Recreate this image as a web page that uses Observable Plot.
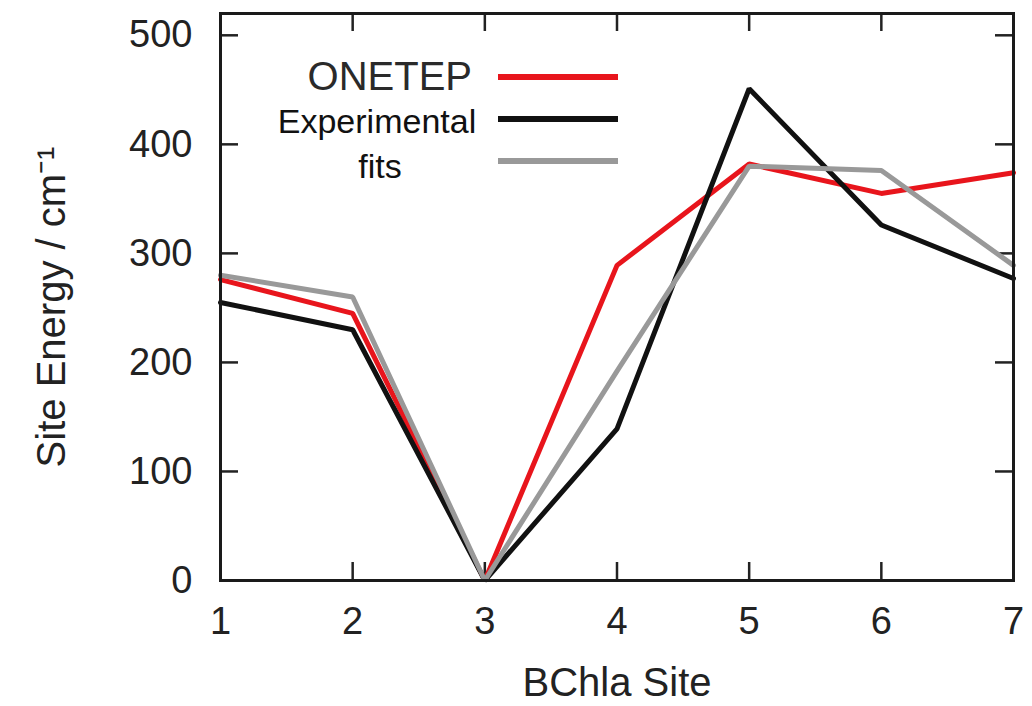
<!DOCTYPE html>
<html>
<head>
<meta charset="utf-8">
<script src="https://cdn.jsdelivr.net/npm/d3@7"></script>
<script src="https://cdn.jsdelivr.net/npm/@observablehq/plot@0.6"></script>
<style>
  html, body { margin: 0; padding: 0; background: #fff; }
  #chart { width: 1032px; height: 706px; }
</style>
</head>
<body>
<div id="chart"></div>
<script>
// ---- data ----
const sites = [1, 2, 3, 4, 5, 6, 7];
const onetep = [276, 245, 0, 289, 382, 355, 374];
const expFitA = [255, 230, 0, 139, 451, 326, 277];
const expFitB = [280, 260, 0, 192, 380, 376, 289];
const xTicks = [1, 2, 3, 4, 5, 6, 7];
const yTicks = [0, 100, 200, 300, 400, 500];
const seriesNames = ["ONETEP", "Experimental fits A", "Experimental fits B"];
const seriesColors = ["#e8151c", "#111111", "#999999"];
const xLabel = "BChla Site";
const yLabel = "Site Energy / cm\u207B\u00B9";

const rows = [];
[onetep, expFitA, expFitB].forEach((vals, k) => {
  sites.forEach((s, i) => rows.push({series: seriesNames[k], site: s, energy: vals[i]}));
});

const W = 1032, H = 706, mL = 220, mR = 19, mT = 13, mB = 126;
const fw = W - mL - mR, fh = H - mT - mB, tickLen = 18;

// legend drawn in pixel space inside the frame
function legendMark() {
  const g = d3.create("svg:g");
  const ys = [77, 119, 161];
  seriesColors.forEach((c, i) => {
    g.append("line").attr("x1", 498).attr("x2", 618).attr("y1", ys[i]).attr("y2", ys[i])
      .attr("stroke", c).attr("stroke-width", 6);
  });
  g.append("text").attr("x", 472).attr("y", 90).attr("text-anchor", "end")
    .attr("font-size", 40).attr("fill", "#2a2a2a").text("ONETEP");
  g.append("text").attr("x", 377).attr("y", 133).attr("text-anchor", "middle")
    .attr("font-size", 34).attr("font-weight", 300).attr("fill", "#111").text("Experimental");
  g.append("text").attr("x", 380).attr("y", 178).attr("text-anchor", "middle")
    .attr("font-size", 34).attr("font-weight", 300).attr("fill", "#111").text("fits");
  return g.node();
}

const chart = Plot.plot({
  width: W, height: H,
  marginLeft: mL, marginRight: mR, marginTop: mT, marginBottom: mB,
  style: {fontFamily: "'Liberation Sans', Arial, sans-serif", fontSize: "38px", background: "#fff", color: "#222"},
  x: {domain: [1, 7], axis: null},
  y: {domain: [0, 520], axis: null},
  color: {domain: seriesNames, range: seriesColors},
  marks: [
    Plot.axisX(xTicks, {tickSize: 0, tickPadding: 27, fontSize: 38, label: null, tickFormat: d3.format("d")}),
    Plot.axisY(yTicks, {tickSize: 0, tickPadding: 28, fontSize: 38, label: null, tickFormat: d3.format("d")}),
    Plot.tickX(xTicks, {x: d => d, insetTop: fh - tickLen, stroke: "#222", strokeWidth: 2.5}),
    Plot.tickX(xTicks, {x: d => d, insetBottom: fh - tickLen, stroke: "#222", strokeWidth: 2.5}),
    Plot.tickY(yTicks, {y: d => d, insetRight: fw - tickLen, stroke: "#222", strokeWidth: 2.5}),
    Plot.tickY(yTicks, {y: d => d, insetLeft: fw - tickLen, stroke: "#222", strokeWidth: 2.5}),
    Plot.line(rows, {x: "site", y: "energy", z: "series", stroke: "series", strokeWidth: 5, strokeLinejoin: "miter"}),
    Plot.frame({stroke: "#1a1a1a", strokeWidth: 3}),
    Plot.text([xLabel], {text: d => d, frameAnchor: "bottom", dy: 103, fontSize: 40, lineAnchor: "middle", textAnchor: "middle", fill: "#222"}),
    Plot.text([yLabel], {text: d => d, frameAnchor: "left", dx: -168, dy: 10, rotate: -90, fontSize: 40, lineAnchor: "middle", textAnchor: "middle", fill: "#222"}),
    legendMark
  ]
});
document.getElementById("chart").append(chart);
</script>
</body>
</html>
